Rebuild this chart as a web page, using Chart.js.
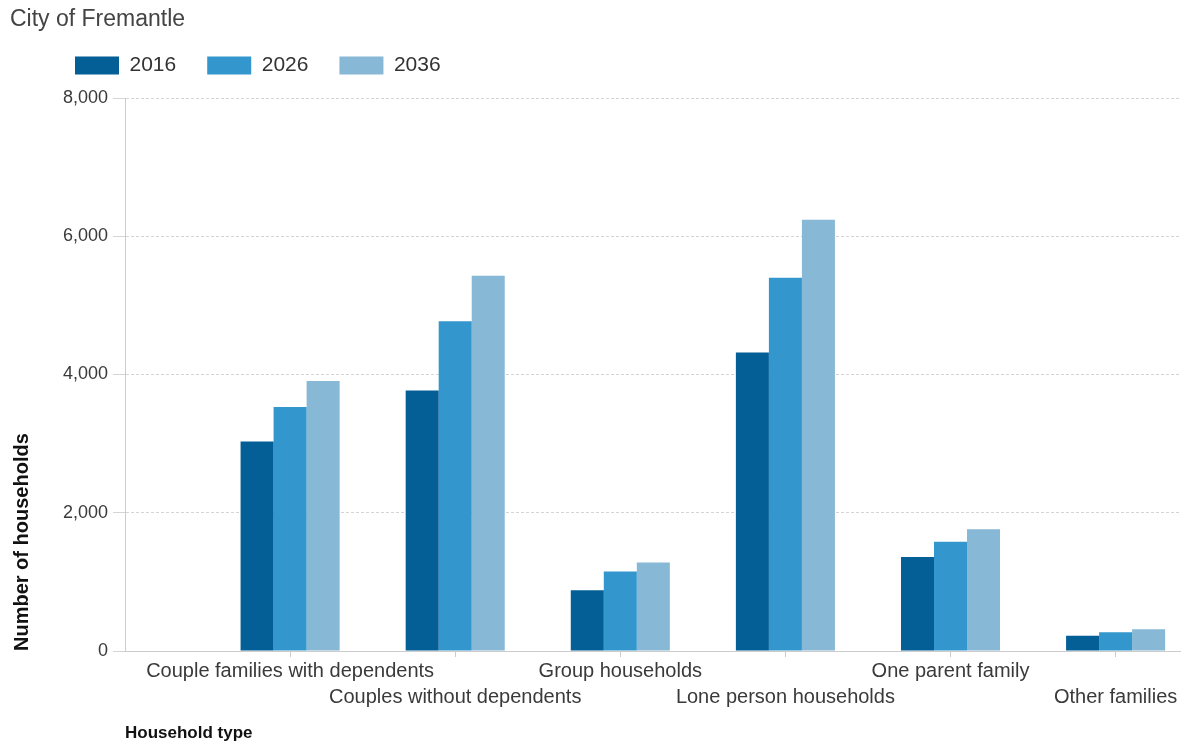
<!DOCTYPE html>
<html>
<head>
<meta charset="utf-8">
<script src="https://cdn.jsdelivr.net/npm/chart.js@4.4.1/dist/chart.umd.min.js"></script>
<style>
  html, body { margin: 0; padding: 0; background: #fff; }
  #wrap { width: 1187px; height: 744px; }
</style>
</head>
<body>
<div id="wrap"><canvas id="households"></canvas></div>
<script>
const categories = [
  "Couple families with dependents",
  "Couples without dependents",
  "Group households",
  "Lone person households",
  "One parent family",
  "Other families",
];
const years = ["2016", "2026", "2036"];
const values2016 = [3030, 3770, 880, 4320, 1360, 220];
const values2026 = [3530, 4770, 1150, 5400, 1580, 270];
const values2036 = [3905, 5430, 1280, 6240, 1760, 315];
const yTicks = [0, 2000, 4000, 6000, 8000];

const colors = ["#035f96", "#3396cd", "#87b8d5"];

function points(values) {
  return values.map((v, i) => ({ x: i + 1, y: v }));
}

// legend starts further right than the title, so nudge it after layout
const moveLegend = {
  id: "moveLegend",
  afterLayout(chart) {
    chart.legend.left = 44;
    chart.legend.top = 24;
  },
};

Chart.defaults.font.family = "'Liberation Sans', Arial, sans-serif";

new Chart(document.getElementById("households"), {
  type: "bar",
  data: {
    datasets: [values2016, values2026, values2036].map((vals, k) => ({
      label: years[k],
      data: points(vals),
      backgroundColor: colors[k],
      borderWidth: 0,
      categoryPercentage: 0.6,
      barPercentage: 1,
    })),
  },
  plugins: [moveLegend],
  options: {
    responsive: true,
    maintainAspectRatio: false,
    animation: false,
    layout: {
      padding: { left: 10, right: 7, top: 0, bottom: 0 },
    },
    plugins: {
      title: {
        display: true,
        text: "City of Fremantle",
        align: "start",
        color: "#444",
        font: { size: 23, weight: "normal" },
        padding: { top: 6, bottom: 2.4 },
      },
      legend: {
        align: "start",
        labels: {
          boxWidth: 44,
          boxHeight: 18,
          padding: 31,
          color: "#333",
          font: { size: 21 },
        },
      },
      tooltip: { enabled: false },
    },
    scales: {
      x: {
        type: "linear",
        min: 0,
        max: 6.39,
        offset: false,
        afterBuildTicks: (scale) => {
          scale.ticks = categories.map((c, i) => ({ value: i + 1 }));
        },
        afterFit: (scale) => {
          scale.height = 93;
        },
        ticks: {
          color: "#3a3a3a",
          font: { size: 20, lineHeight: 1.3 },
          padding: 1,
          maxRotation: 0,
          autoSkip: false,
          callback: (value) => {
            const i = value - 1;
            return i % 2 === 0 ? categories[i] : ["", categories[i]];
          },
        },
        grid: { offset: false, drawOnChartArea: false, color: "#ccc", tickLength: 6 },
        border: { color: "#ccc" },
        title: {
          display: true,
          text: "Household type",
          align: "start",
          color: "#111",
          font: { size: 17, weight: "bold" },
          padding: { top: 0, bottom: 0 },
        },
      },
      y: {
        min: 0,
        max: 8000,
        afterBuildTicks: (scale) => {
          scale.ticks = yTicks.map((v) => ({ value: v }));
        },
        afterFit: (scale) => {
          scale.width = 115;
        },
        ticks: { color: "#3a3a3a", font: { size: 18 }, padding: 5 },
        grid: { color: "#d4d4d4", tickLength: 12 },
        border: { color: "#ccc", dash: [3, 2] },
        title: {
          display: true,
          text: "Number of households",
          align: "start",
          color: "#111",
          font: { size: 20, weight: "bold" },
          padding: { top: 0, bottom: 0 },
        },
      },
    },
  },
});
</script>
</body>
</html>
